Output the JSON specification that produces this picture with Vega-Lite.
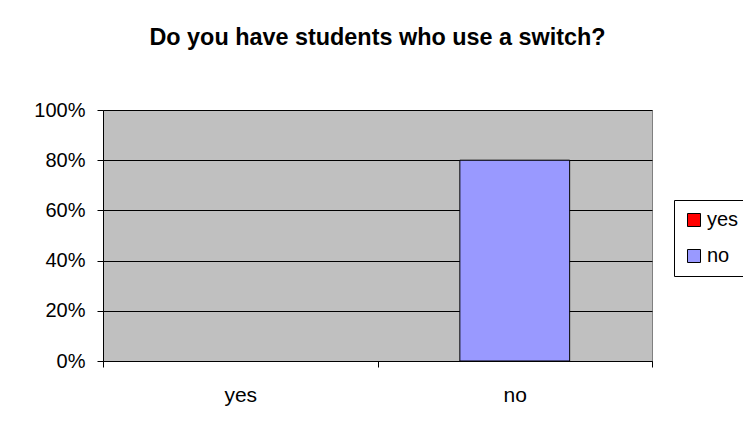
{
  "$schema": "https://vega.github.io/schema/vega-lite/v6.json",
  "autosize": "none",
  "padding": {"left": 103, "top": 110, "right": 91, "bottom": 69},
  "width": 549,
  "height": 251,
  "background": "#ffffff",
  "title": {
    "text": "Do you have students who use a switch?",
    "font": "Liberation Sans",
    "fontSize": 23.4,
    "fontWeight": "bold",
    "color": "#000000",
    "anchor": "middle",
    "baseline": "alphabetic",
    "offset": 32
  },
  "data": {
    "values": [
      {"answer": "yes", "share": 0.0},
      {"answer": "no", "share": 0.8}
    ]
  },
  "transform": [{"filter": "datum.share > 0"}],
  "mark": {"type": "bar", "width": {"band": 0.4}, "stroke": "#000000", "strokeWidth": 1},
  "encoding": {
    "x": {
      "field": "answer",
      "type": "nominal",
      "sort": ["yes", "no"],
      "scale": {"domain": ["yes", "no"], "paddingInner": 0, "paddingOuter": 0},
      "axis": {
        "title": null,
        "labelAngle": 0,
        "tickBand": "extent",
        "tickSize": 6,
        "tickColor": "#000000",
        "domainColor": "#000000",
        "labelFont": "Liberation Sans",
        "labelFontSize": 21,
        "labelColor": "#000000",
        "labelBaseline": "alphabetic",
        "labelPadding": 34,
        "grid": false
      }
    },
    "y": {
      "field": "share",
      "type": "quantitative",
      "scale": {"domain": [0, 1]},
      "axis": {
        "title": null,
        "values": [0, 0.2, 0.4, 0.6, 0.8, 1],
        "format": ".0%",
        "tickSize": 6,
        "tickColor": "#000000",
        "domainColor": "#000000",
        "gridColor": "#000000",
        "gridOpacity": 1,
        "labelFont": "Liberation Sans",
        "labelFontSize": 20,
        "labelColor": "#000000",
        "labelPadding": 12
      }
    },
    "color": {
      "field": "answer",
      "type": "nominal",
      "scale": {"domain": ["yes", "no"], "range": ["#FF0000", "#9999FF"]},
      "legend": {
        "title": null,
        "orient": "none",
        "legendX": 571,
        "legendY": 90,
        "strokeColor": "#000000",
        "padding": 10,
        "symbolType": "square",
        "symbolSize": 169,
        "symbolStrokeColor": "#000000",
        "symbolStrokeWidth": 1,
        "symbolOpacity": 1,
        "labelFont": "Liberation Sans",
        "labelFontSize": 20,
        "labelColor": "#000000",
        "labelOffset": 3,
        "rowPadding": 16
      }
    }
  },
  "config": {
    "view": {"fill": "#C0C0C0", "stroke": "#808080", "strokeWidth": 1}
  }
}
